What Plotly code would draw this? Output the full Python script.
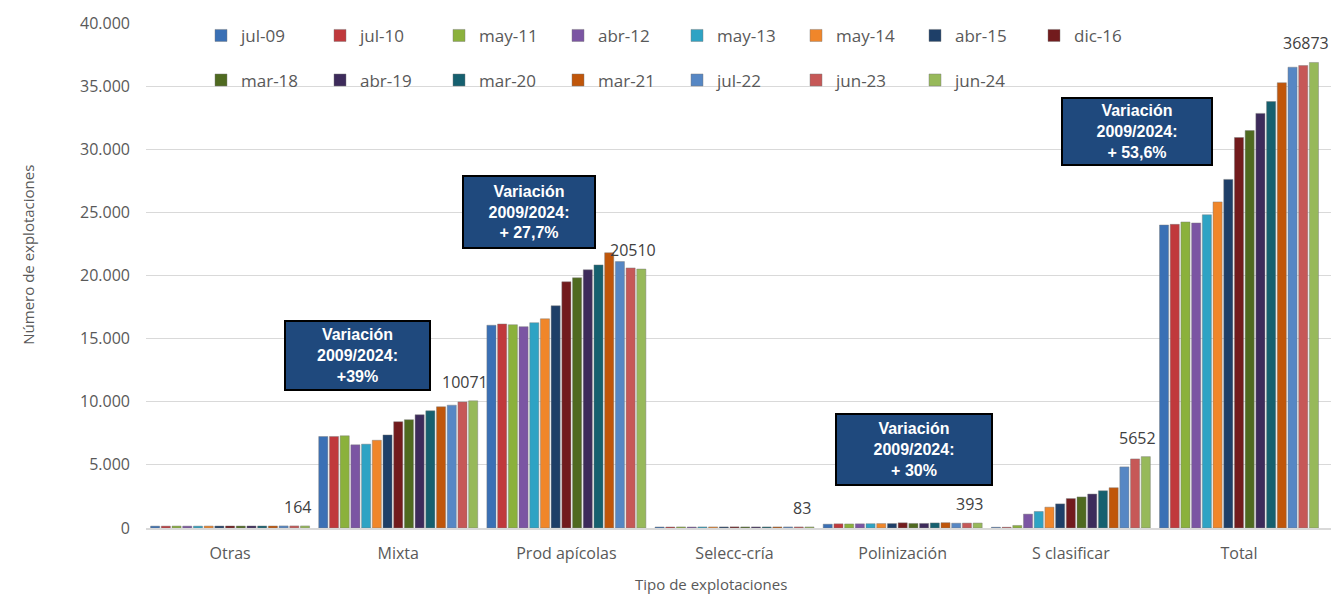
import plotly.graph_objects as go

categories = ["Otras", "Mixta", "Prod apícolas", "Selecc-cría", "Polinización", "S clasificar", "Total"]
series_names = ["jul-09", "jul-10", "may-11", "abr-12", "may-13", "may-14", "abr-15", "dic-16",
                "mar-18", "abr-19", "mar-20", "mar-21", "jul-22", "jun-23", "jun-24"]

# values per category, one entry per series (in series_names order)
otras = [150, 150, 155, 150, 150, 155, 155, 160, 155, 160, 160, 160, 165, 165, 164]
mixta = [7245, 7250, 7300, 6590, 6640, 6950, 7370, 8420, 8580, 8970, 9280, 9600, 9730, 9990, 10071]
prod_apicolas = [16060, 16160, 16100, 15950, 16260, 16570, 17600, 19500, 19820, 20450, 20840, 21800, 21100, 20600, 20510]
selecc_cria = [80, 80, 85, 80, 85, 85, 85, 90, 85, 85, 85, 85, 85, 85, 83]
polinizacion = [302, 330, 320, 330, 340, 350, 350, 410, 360, 360, 400, 420, 380, 390, 393]
s_clasificar = [60, 60, 200, 1100, 1310, 1650, 1910, 2330, 2460, 2690, 2950, 3190, 4840, 5470, 5652]
total = [24000, 24050, 24240, 24160, 24810, 25830, 27610, 30930, 31480, 32840, 33780, 35270, 36500, 36630, 36873]

colors = ["#3A70B5", "#C0393C", "#8BB13C", "#7B55A3", "#2EA3C4", "#F0862A", "#1E3F68", "#721B1D",
          "#4F6A20", "#3D2B5B", "#16606F", "#C0560A", "#5687C4", "#C65857", "#97B95A"]

annotations_text = [
    "Variación<br>2009/2024:<br>+39%",
    "Variación<br>2009/2024:<br>+ 27,7%",
    "Variación<br>2009/2024:<br>+ 30%",
    "Variación<br>2009/2024:<br>+ 53,6%",
]

by_cat = [otras, mixta, prod_apicolas, selecc_cria, polinizacion, s_clasificar, total]

FONT = "Open Sans"
GRAY = "#595959"

fig = go.Figure()
n = len(series_names)
for i, name in enumerate(series_names):
    vals = [cat[i] for cat in by_cat]
    fig.add_trace(go.Bar(
        x=categories, y=vals, name=name,
        marker=dict(color=colors[i], line=dict(color="rgba(120,120,120,0.55)", width=0.8)),
        legend="legend" if i < 8 else "legend2",
        hoverinfo="x+y+name",
    ))

W, H = 1343, 595
L, R, T, B = 146, 12, 18, 67
pw, ph = W - L - R, H - T - B

def px(xp):
    return (xp - L) / pw

def py(yp):
    return (H - B - yp) / ph

ann = []
# data labels of the last series (jun-24), placed through the axes
last_vals = [cat[-1] for cat in by_cat]
for c, v in zip(categories, last_vals):
    ann.append(dict(text=str(v), x=c, y=v, xref="x", yref="y", showarrow=False,
                    xanchor="center", yanchor="middle", xshift=67, yshift=19,
                    font=dict(family=FONT, size=16, color="#404040")))

boxes = [(357, 354, 147, 71), (529, 209, 134, 74), (914, 449, 158, 73), (1137, 128, 152, 69)]
for txt, (cx, cy, bw, bh) in zip(annotations_text, boxes):
    ann.append(dict(
        text="<b>" + txt + "</b>", x=px(cx), y=py(cy), xref="paper", yref="paper",
        xanchor="center", yanchor="middle", showarrow=False,
        font=dict(family="Liberation Sans", size=16, color="white"),
        bgcolor="#1F497D", bordercolor="#000000", borderwidth=2, borderpad=0,
        width=bw - 4, height=bh - 4, align="center",
    ))
ann.append(dict(text="Número de explotaciones", x=px(28), y=py(252), xref="paper", yref="paper",
                textangle=-90, showarrow=False, xanchor="center", yanchor="middle",
                font=dict(family=FONT, size=15, color=GRAY)))
ann.append(dict(text="Tipo de explotaciones", x=px(711), y=py(585), xref="paper", yref="paper",
                showarrow=False, xanchor="center", yanchor="middle",
                font=dict(family=FONT, size=15, color=GRAY)))

legend_common = dict(orientation="h", xanchor="left", yanchor="middle",
                     font=dict(family=FONT, size=17, color=GRAY),
                     bgcolor="rgba(0,0,0,0)", entrywidth=74, entrywidthmode="pixels",
                     itemwidth=30, traceorder="normal")

fig.update_layout(
    width=W, height=H, autosize=False,
    margin=dict(l=L, r=R, t=T, b=B),
    paper_bgcolor="white", plot_bgcolor="white",
    separators=",.",
    barmode="group", bargap=0.045, bargroupgap=0.15,
    font=dict(family=FONT, color=GRAY),
    xaxis=dict(showgrid=False, showline=True, linecolor="#D9D9D9", linewidth=2,
               tickfont=dict(family=FONT, size=16, color=GRAY), ticks="", ticklabelstandoff=10),
    yaxis=dict(range=[0, 40000], dtick=5000, tickformat=",d", showgrid=True, gridcolor="#D9D9D9",
               gridwidth=1, zeroline=False, showline=False,
               tickfont=dict(family=FONT, size=16, color=GRAY), ticklabelstandoff=15),
    legend=dict(**legend_common, x=px(201), y=py(31)),
    legend2=dict(**legend_common, x=px(201), y=py(76)),
    annotations=ann,
    showlegend=True,
)

fig.write_html("out.html", config={"displayModeBar": False},
               post_script="document.body.style.margin='0px';")
